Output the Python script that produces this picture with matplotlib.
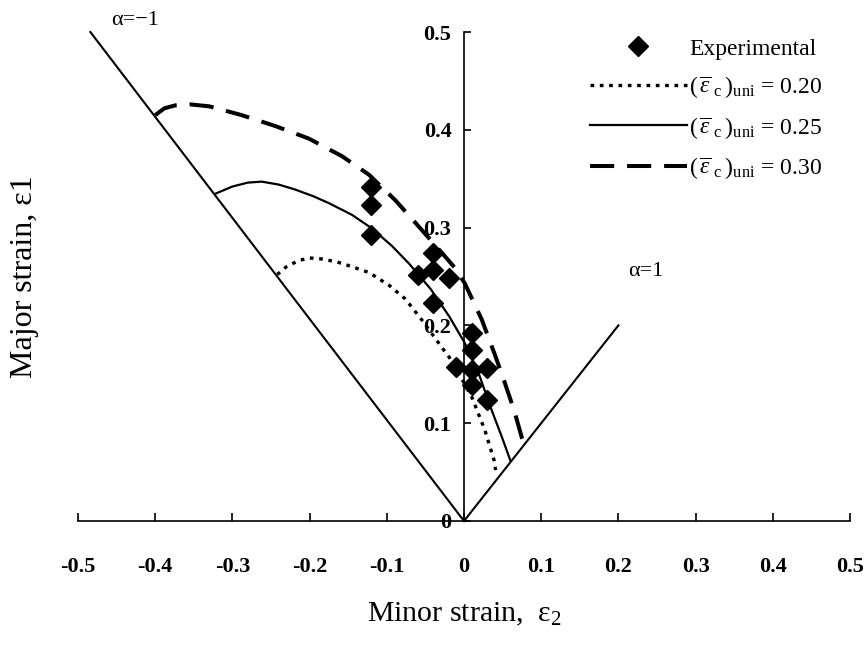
import matplotlib
matplotlib.use("Agg")
import matplotlib.pyplot as plt

plt.rcParams['font.family'] = ['Liberation Serif', 'DejaVu Serif']
plt.rcParams['mathtext.fontset'] = 'custom'
plt.rcParams['mathtext.rm'] = 'Liberation Serif'
plt.rcParams['mathtext.it'] = 'Liberation Serif:italic'
plt.rcParams['mathtext.bf'] = 'Liberation Serif:bold'
plt.rcParams['mathtext.fallback'] = 'stix'

# ---------------- data ----------------
exp_x = [-0.12, -0.12, -0.12, -0.04, -0.04, -0.06, -0.02, -0.04,
         0.01, 0.01, -0.01, 0.01, 0.03, 0.01, 0.03]
exp_y = [0.342, 0.323, 0.292, 0.274, 0.257, 0.252, 0.248, 0.223,
         0.192, 0.175, 0.157, 0.154, 0.156, 0.139, 0.124]

c020_x = [-0.242, -0.230, -0.215, -0.201, -0.185, -0.165, -0.145, -0.123,
          -0.097, -0.076, -0.055, -0.031, -0.016, 0.010, 0.027, 0.039, 0.041]
c020_y = [0.252, 0.260, 0.266, 0.269, 0.268, 0.265, 0.260, 0.254,
          0.241, 0.227, 0.206, 0.180, 0.164, 0.127, 0.093, 0.062, 0.052]

c025_x = [-0.321, -0.300, -0.280, -0.262, -0.240, -0.219, -0.195, -0.175,
          -0.145, -0.119, -0.093, -0.071, -0.043, -0.019, 0.001, 0.019,
          0.036, 0.049, 0.060]
c025_y = [0.335, 0.342, 0.346, 0.347, 0.344, 0.339, 0.332, 0.325,
          0.313, 0.299, 0.281, 0.263, 0.237, 0.209, 0.182, 0.151,
          0.113, 0.086, 0.062]

c030_x = [-0.400, -0.388, -0.374, -0.355, -0.330, -0.288, -0.245, -0.201,
          -0.158, -0.123, -0.089, -0.063, -0.035, -0.012, 0.001, 0.023,
          0.040, 0.053, 0.065, 0.075, 0.079]
c030_y = [0.415, 0.422, 0.425, 0.426, 0.424, 0.415, 0.404, 0.391,
          0.373, 0.354, 0.328, 0.305, 0.280, 0.259, 0.243, 0.206,
          0.170, 0.141, 0.113, 0.085, 0.077]

alpha_neg_x = [0.0, -0.484]
alpha_neg_y = [0.0, 0.5]
alpha_pos_x = [0.0, 0.2]
alpha_pos_y = [0.0, 0.2]

xticks = [-0.5, -0.4, -0.3, -0.2, -0.1, 0.0, 0.1, 0.2, 0.3, 0.4, 0.5]
xtick_labels = ["-0.5", "-0.4", "-0.3", "-0.2", "-0.1", "0",
                "0.1", "0.2", "0.3", "0.4", "0.5"]
yticks = [0.0, 0.1, 0.2, 0.3, 0.4, 0.5]
ytick_labels = ["0", "0.1", "0.2", "0.3", "0.4", "0.5"]

labels = ["Experimental",
          r"$(\,\overline{\varepsilon}\;{}_{\rm c}\,)_{\rm uni}$ = 0.20",
          r"$(\,\overline{\varepsilon}\;{}_{\rm c}\,)_{\rm uni}$ = 0.25",
          r"$(\,\overline{\varepsilon}\;{}_{\rm c}\,)_{\rm uni}$ = 0.30"]

# ---------------- figure ----------------
W, H = 864, 647
fig = plt.figure(figsize=(W / 100, H / 100), dpi=100)
ax = fig.add_axes([78 / W, (H - 521) / H, 772 / W, 489 / H])
ax.set_xlim(-0.5, 0.5)
ax.set_ylim(0, 0.5)

ax.plot(alpha_neg_x, alpha_neg_y, color='black', lw=1.5, clip_on=False)
ax.plot(alpha_pos_x, alpha_pos_y, color='black', lw=1.5, clip_on=False)

h_exp, = ax.plot(exp_x, exp_y, linestyle='none', marker='D', ms=10.5,
                 color='black', label=labels[0])
h20, = ax.plot(c020_x, c020_y, color='black', lw=2.4, linestyle=(0, (1.1, 1.7)),
               label=labels[1])
h25, = ax.plot(c025_x, c025_y, color='black', lw=1.6, linestyle='-',
               label=labels[2])
h30, = ax.plot(c030_x, c030_y, color='black', lw=2.9, linestyle=(0, (6, 3.2)),
               label=labels[3])

for s in ['top', 'right']:
    ax.spines[s].set_visible(False)
ax.spines['left'].set_position(('data', 0))
ax.spines['bottom'].set_position(('data', 0))
ax.spines['left'].set_linewidth(1.2)
ax.spines['bottom'].set_linewidth(1.2)

ax.set_xticks(xticks)
ax.set_xticklabels(xtick_labels, fontsize=16, fontweight='bold')
ax.set_yticks(yticks)
ax.set_yticklabels(ytick_labels, fontsize=16, fontweight='bold')
ax.tick_params(axis='x', direction='in', length=6, width=1.2, pad=26)
ax.tick_params(axis='y', direction='in', length=5, width=1.2, pad=9)

ax.set_xlabel(r"Minor strain,  $\mathregular{\varepsilon_2}$", fontsize=21.5)
ax.xaxis.set_label_coords(0.5, -0.163)
ax.set_ylabel("Major strain, ε1", fontsize=23)
ax.yaxis.set_label_coords(-0.05, 0.5)

ax.text(-0.426, 0.512, "α=−1", fontsize=16, ha='center', va='center')
ax.text(0.235, 0.255, "α=1", fontsize=16, ha='center', va='center')

leg = ax.legend(handles=[h_exp, h20, h25, h30], loc='upper left',
                bbox_to_anchor=((590 - 78) / 772, (521 - 38) / 489),
                frameon=False, fontsize=17, handlelength=4.1,
                handletextpad=0.1, labelspacing=0.62, numpoints=1,
                borderaxespad=0, borderpad=0)

fig.savefig("out.png", dpi=100, facecolor='white')
